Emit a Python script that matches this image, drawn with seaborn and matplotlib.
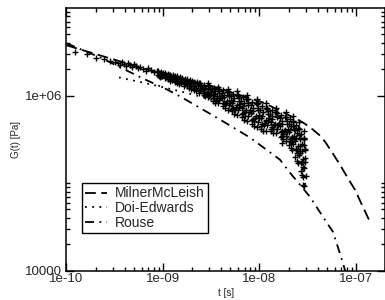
import numpy as np
import pandas as pd
import matplotlib
matplotlib.use("Agg")
import matplotlib.pyplot as plt
import matplotlib.ticker as mticker
import seaborn as sns

sns.set_theme(style="ticks")
plt.rcParams['font.family'] = ['Liberation Sans', 'DejaVu Sans']

# --- curves (log10 of t [s] and G [Pa]) ---
milner_log_t = [-10.0, -9.653, -9.446, -9.238, -9.0, -8.482, -7.964, -7.757, -7.549, -7.466,
                -7.373, -7.321, -7.269, -7.166, -7.093, -7.010, -6.938, -6.855]
milner_log_G = [6.574, 6.459, 6.391, 6.322, 6.242, 6.104, 5.921, 5.812, 5.692, 5.629,
                5.543, 5.474, 5.388, 5.211, 5.073, 4.924, 4.752, 4.558]

doi_log_t = [-9.456, -9.218, -9.031, -8.772, -8.617, -8.440, -8.10, -7.80, -7.62, -7.55, -7.52]
doi_log_G = [6.207, 6.150, 6.104, 6.035, 5.990, 5.932, 5.800, 5.620, 5.420, 5.150, 4.950]

rouse_log_t = [-10.0, -9.653, -9.187, -8.959, -8.803, -8.409, -8.098, -7.788, -7.684, -7.477,
               -7.342, -7.238, -7.145, -7.114, -7.083]
rouse_log_G = [6.597, 6.436, 6.184, 6.070, 5.978, 5.726, 5.520, 5.268, 5.119, 4.844,
               4.615, 4.443, 4.123, 4.008, 3.893]

# --- simulation points (log10 t, log10 G) ---
data_log_t = [
    -9.912, -9.788, -9.694, -9.611, -9.549, -9.497,
    -9.466, -9.446, -9.425, -9.404, -9.383, -9.363, -9.342, -9.321, -9.301, -9.280, -9.259, -9.238,
    -9.207, -9.176, -9.155, -9.124, -9.093, -9.062,
    -9.05, -9.04, -9.055, -9.045, -9.00, -8.99, -9.01, -8.95, -8.94, -8.96, -8.945,
    -8.90, -8.89, -8.91, -8.85, -8.84, -8.86, -8.855, -8.80, -8.79, -8.81,
    -8.75, -8.74, -8.76, -8.755, -8.70, -8.69, -8.71, -8.705, -8.65, -8.64, -8.66, -8.655,
    -8.62, -8.59, -8.61, -8.58, -8.60, -8.615,
    -8.535, -8.57, -8.545, -8.56, -8.53, -8.555,
    -8.52, -8.49, -8.51, -8.48, -8.50, -8.515,
    -8.435, -8.47, -8.445, -8.46, -8.43, -8.455,
    -8.42, -8.39, -8.41, -8.38, -8.40, -8.415,
    -8.335, -8.37, -8.345, -8.36, -8.33, -8.355,
    -8.32, -8.29, -8.31, -8.28, -8.30, -8.315,
    -8.235, -8.27, -8.245, -8.26, -8.23, -8.255,
    -8.22, -8.19, -8.21, -8.18, -8.20, -8.215,
    -8.135, -8.17, -8.145, -8.16, -8.13, -8.155,
    -8.12, -8.09, -8.11, -8.08, -8.10, -8.115,
    -8.035, -8.07, -8.045, -8.06, -8.03, -8.055,
    -8.02, -7.99, -8.01, -7.98, -8.00, -8.015,
    -7.935, -7.97, -7.945, -7.96, -7.93, -7.955,
    -7.92, -7.89, -7.91, -7.88, -7.90, -7.915,
    -7.835, -7.87, -7.845, -7.86, -7.83, -7.855,
    -7.82, -7.79, -7.81, -7.78, -7.80, -7.815,
    -7.735, -7.77, -7.745, -7.76, -7.73, -7.755,
    -7.72, -7.69, -7.71, -7.68, -7.70, -7.715,
    -7.655, -7.685, -7.665, -7.675, -7.65, -7.67,
    -7.65, -7.635, -7.645, -7.625, -7.64, -7.65,
    -7.60, -7.62, -7.605, -7.615, -7.595, -7.61,
    -7.59, -7.575, -7.585, -7.57, -7.58, -7.59,
    -7.54, -7.56, -7.545, -7.555, -7.535, -7.55,
    -7.535, -7.525, -7.53, -7.52, -7.53, -7.54,
    -7.767, -7.767, -7.55, -7.54,
    # in-between readings of the dense band
    -9.025, -9.015, -9.035, -9.02, -9.03,
    -8.975, -8.965, -8.985, -8.97, -8.98,
    -8.925, -8.915, -8.935, -8.92, -8.93,
    -8.875, -8.865, -8.885, -8.87, -8.88,
    -8.825, -8.815, -8.835, -8.82, -8.83,
    -8.775, -8.765, -8.785, -8.77, -8.78,
    -8.725, -8.715, -8.735, -8.72, -8.73,
    -8.675, -8.665, -8.685, -8.67, -8.68,
    -8.625, -8.615, -8.635, -8.62, -8.63,
    -8.575, -8.565, -8.585, -8.57, -8.58,
    -8.525, -8.515, -8.535, -8.52, -8.53,
    -8.475, -8.465, -8.485, -8.47, -8.48,
    -8.425, -8.415, -8.435, -8.42, -8.43,
    -8.375, -8.365, -8.385, -8.37, -8.38,
    -8.325, -8.315, -8.335, -8.32, -8.33,
    -8.275, -8.265, -8.285, -8.27, -8.28,
    -8.225, -8.215, -8.235, -8.22, -8.23,
    -8.175, -8.165, -8.185, -8.17, -8.18,
    -8.125, -8.115, -8.135, -8.12, -8.13,
    -8.075, -8.065, -8.085, -8.07, -8.08,
    -8.025, -8.015, -8.035, -8.02, -8.03,
    -7.975, -7.965, -7.985, -7.97, -7.98,
    -7.925, -7.915, -7.935, -7.92, -7.93,
    -7.875, -7.865, -7.885, -7.87, -7.88,
    -7.825, -7.815, -7.835, -7.82, -7.83,
    -7.775, -7.765, -7.785, -7.77, -7.78,
    -7.725, -7.715, -7.735, -7.72, -7.73,
    -7.685, -7.675, -7.695, -7.68, -7.69,
    -7.655, -7.645, -7.665, -7.65, -7.66,
    -7.625, -7.615, -7.635, -7.62, -7.63,
    -7.595, -7.585, -7.605, -7.59, -7.60,
    -7.565, -7.555, -7.575, -7.56, -7.57,
    -7.540, -7.530, -7.550, -7.535, -7.545,
]
data_log_G = [
    6.494, 6.471, 6.425, 6.414, 6.391, 6.379,
    6.368, 6.345, 6.379, 6.356, 6.333, 6.368, 6.345, 6.322, 6.356, 6.333, 6.310, 6.322,
    6.299, 6.276, 6.310, 6.288, 6.265, 6.276,
    6.28, 6.26, 6.24, 6.22, 6.26, 6.24, 6.22, 6.25, 6.23, 6.21, 6.19,
    6.23, 6.21, 6.18, 6.22, 6.19, 6.17, 6.14, 6.20, 6.17, 6.14,
    6.19, 6.16, 6.14, 6.11, 6.17, 6.14, 6.11, 6.08, 6.16, 6.12, 6.09, 6.05,
    6.14, 6.10, 6.07, 6.03, 6.08, 6.12,
    6.11, 6.07, 6.03, 5.99, 6.14, 6.02,
    6.11, 6.07, 6.02, 5.97, 6.04, 6.08,
    6.07, 6.02, 5.97, 5.92, 6.10, 5.95,
    6.08, 6.03, 5.97, 5.91, 6.00, 6.05,
    6.04, 5.98, 5.92, 5.86, 6.08, 5.90,
    6.04, 5.99, 5.92, 5.85, 5.95, 6.01,
    6.01, 5.94, 5.87, 5.79, 6.05, 5.84,
    6.01, 5.94, 5.87, 5.79, 5.90, 5.97,
    5.96, 5.88, 5.81, 5.72, 6.01, 5.77,
    5.96, 5.89, 5.81, 5.72, 5.84, 5.92,
    5.91, 5.82, 5.74, 5.65, 5.96, 5.71,
    5.91, 5.83, 5.74, 5.65, 5.78, 5.86,
    5.86, 5.77, 5.69, 5.60, 5.91, 5.66,
    5.86, 5.79, 5.71, 5.62, 5.74, 5.82,
    5.81, 5.73, 5.66, 5.57, 5.86, 5.62,
    5.80, 5.74, 5.66, 5.58, 5.69, 5.77,
    5.76, 5.68, 5.59, 5.50, 5.81, 5.56,
    5.76, 5.68, 5.58, 5.48, 5.62, 5.71,
    5.71, 5.61, 5.51, 5.40, 5.77, 5.47,
    5.71, 5.61, 5.50, 5.38, 5.54, 5.65,
    5.63, 5.51, 5.39, 5.25, 5.70, 5.34,
    5.62, 5.50, 5.37, 5.23, 5.42, 5.55,
    5.51, 5.37, 5.24, 5.09, 5.59, 5.18,
    5.50, 5.38, 5.24, 5.08, 5.29, 5.43,
    5.54, 5.46, 4.98, 4.97,
    6.27, 6.25, 6.24, 6.22, 6.21,
    6.26, 6.24, 6.23, 6.21, 6.20,
    6.24, 6.22, 6.21, 6.19, 6.17,
    6.22, 6.20, 6.19, 6.17, 6.15,
    6.21, 6.19, 6.17, 6.15, 6.13,
    6.19, 6.17, 6.15, 6.13, 6.11,
    6.18, 6.16, 6.13, 6.11, 6.09,
    6.16, 6.14, 6.11, 6.09, 6.06,
    6.14, 6.11, 6.08, 6.06, 6.03,
    6.12, 6.09, 6.06, 6.03, 6.01,
    6.11, 6.07, 6.04, 6.00, 5.98,
    6.09, 6.05, 6.01, 5.97, 5.94,
    6.07, 6.03, 5.99, 5.95, 5.91,
    6.06, 6.01, 5.97, 5.92, 5.88,
    6.04, 5.99, 5.94, 5.89, 5.84,
    6.02, 5.97, 5.92, 5.86, 5.82,
    6.00, 5.94, 5.89, 5.83, 5.78,
    5.98, 5.92, 5.86, 5.80, 5.75,
    5.96, 5.89, 5.83, 5.77, 5.71,
    5.93, 5.86, 5.80, 5.73, 5.68,
    5.90, 5.84, 5.77, 5.70, 5.64,
    5.88, 5.81, 5.74, 5.68, 5.62,
    5.85, 5.79, 5.72, 5.66, 5.60,
    5.83, 5.77, 5.70, 5.64, 5.59,
    5.81, 5.75, 5.68, 5.62, 5.57,
    5.78, 5.71, 5.65, 5.59, 5.53,
    5.76, 5.68, 5.61, 5.54, 5.48,
    5.73, 5.65, 5.58, 5.50, 5.43,
    5.70, 5.62, 5.53, 5.45, 5.38,
    5.66, 5.57, 5.48, 5.39, 5.30,
    5.62, 5.52, 5.42, 5.32, 5.23,
    5.56, 5.45, 5.34, 5.24, 5.14,
    5.50, 5.39, 5.28, 5.17, 5.07,
]

df_milner = pd.DataFrame({"t": 10.0 ** np.array(milner_log_t), "G": 10.0 ** np.array(milner_log_G)})
df_doi = pd.DataFrame({"t": 10.0 ** np.array(doi_log_t), "G": 10.0 ** np.array(doi_log_G)})
df_rouse = pd.DataFrame({"t": 10.0 ** np.array(rouse_log_t), "G": 10.0 ** np.array(rouse_log_G)})
df_data = pd.DataFrame({"t": 10.0 ** np.array(data_log_t), "G": 10.0 ** np.array(data_log_G)})

fig = plt.figure(figsize=(3.85, 3.0), dpi=100)
ax = fig.add_axes([0.1727, 0.0977, 0.8273, 0.8757])

sns.scatterplot(data=df_data, x="t", y="G", marker="+", s=16, color="black",
                linewidth=1.0, ax=ax, legend=False, zorder=2)

l1, = ax.plot(df_milner["t"], df_milner["G"], color="black", lw=1.3, dashes=(6, 3), label="MilnerMcLeish")
l2, = ax.plot(df_doi["t"], df_doi["G"], color="black", lw=1.3, dashes=(1, 3), label="Doi-Edwards")
l3, = ax.plot(df_rouse["t"], df_rouse["G"], color="black", lw=1.3, dashes=(5, 3, 1, 3), label="Rouse")

ax.set_xscale("log")
ax.set_yscale("log")
ax.set_xlim(1e-10, 2e-7)
ax.set_ylim(1e4, 1e7)

ax.xaxis.set_major_locator(mticker.FixedLocator([1e-10, 1e-9, 1e-8, 1e-7]))
ax.xaxis.set_major_formatter(mticker.FixedFormatter(["1e-10", "1e-09", "1e-08", "1e-07"]))
ax.xaxis.set_minor_locator(mticker.LogLocator(base=10, subs=np.arange(2, 10)))
ax.xaxis.set_minor_formatter(mticker.NullFormatter())

ax.yaxis.set_major_locator(mticker.FixedLocator([1e4, 1e6]))
ax.yaxis.set_major_formatter(mticker.FixedFormatter(["10000", "1e+06"]))
y_minor = [2e4, 3e4, 4e4, 5e4, 6e4, 7e4, 8e4, 9e4, 1e5, 2e6, 3e6, 4e6, 5e6, 6e6, 7e6, 8e6, 9e6]
ax.yaxis.set_minor_locator(mticker.FixedLocator(y_minor))
ax.yaxis.set_minor_formatter(mticker.NullFormatter())

ax.tick_params(which="both", direction="in", top=True, right=True, color="black", width=1.0)
ax.tick_params(which="major", length=5.5, labelsize=9.5)
ax.tick_params(axis="x", which="major", pad=1.5)
ax.tick_params(axis="y", which="major", pad=3)
ax.tick_params(which="minor", length=3)
for s in ax.spines.values():
    s.set_linewidth(1.1)
    s.set_color("black")

ax.set_xlabel("t [s]", fontsize=7, labelpad=2)
ax.set_ylabel("G(t) [Pa]", fontsize=7, labelpad=3)

leg = ax.legend(handles=[l1, l2, l3], loc="upper left", bbox_to_anchor=(0.048, 0.334),
                fontsize=10, frameon=True, fancybox=False, framealpha=1,
                handlelength=1.6, handletextpad=0.5, labelspacing=0.05, borderpad=0.25,
                borderaxespad=0)
leg.get_frame().set_edgecolor("black")
leg.get_frame().set_linewidth(1.0)

fig.savefig("out.png", dpi=100)
